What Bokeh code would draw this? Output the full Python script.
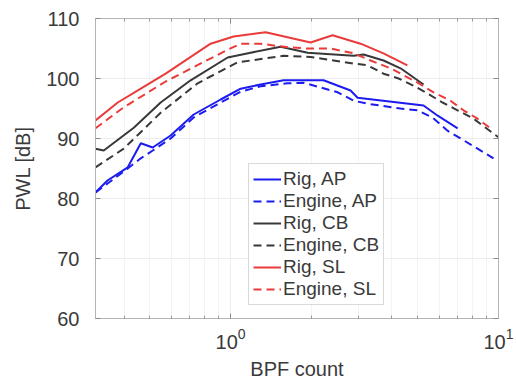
from bokeh.plotting import figure
from bokeh.models import FixedTicker, LinearAxis, LogAxis
from bokeh.embed import file_html
from bokeh.resources import INLINE

# PWL spectra versus BPF count for rig and engine, three operating points
rig_ap_x = [0.313, 0.347, 0.413, 0.462, 0.512, 0.597, 0.728, 0.918, 1.09, 1.294, 1.577, 2.222, 2.804, 2.978, 5.25, 5.93, 7.04]
rig_ap_y = [81.0, 83.0, 85.2, 89.2, 88.5, 90.5, 94.0, 96.5, 98.3, 99.0, 99.7, 99.7, 98.0, 96.8, 95.5, 93.8, 91.7]

eng_ap_x = [0.313, 0.413, 0.462, 0.512, 0.597, 0.728, 0.918, 1.09, 1.294, 1.632, 1.873, 2.167, 2.51, 2.877, 3.245, 4.31, 4.987, 5.672, 6.452, 7.22, 8.208, 9.58]
eng_ap_y = [81.0, 85.0, 86.7, 88.0, 90.0, 93.5, 96.0, 97.8, 98.7, 99.2, 99.3, 98.5, 97.7, 96.3, 95.8, 95.0, 94.7, 93.5, 91.3, 90.0, 88.5, 86.7]

rig_cb_x = [0.313, 0.336, 0.435, 0.548, 0.709, 0.975, 1.187, 1.537, 1.938, 2.877, 3.135, 3.723, 4.308, 5.25]
rig_cb_y = [88.3, 88.0, 91.8, 96.0, 99.7, 103.5, 104.3, 105.3, 104.3, 103.8, 104.0, 103.0, 101.7, 99.0]

eng_cb_x = [0.313, 0.399, 0.548, 0.753, 1.062, 1.187, 1.577, 1.989, 2.877, 3.245, 3.723, 4.236, 4.818, 5.434, 6.18, 7.03, 8.07, 10.0]
eng_cb_y = [85.2, 88.3, 94.3, 99.2, 102.7, 103.0, 103.8, 103.6, 102.5, 102.2, 100.8, 100.0, 98.8, 97.5, 96.0, 94.7, 93.3, 90.2]

rig_sl_x = [0.313, 0.379, 0.462, 0.572, 0.842, 1.026, 1.351, 1.989, 2.402, 3.055, 3.72, 4.57]
rig_sl_y = [93.0, 96.0, 98.3, 100.8, 105.8, 107.0, 107.7, 106.0, 107.2, 105.8, 104.2, 102.2]

eng_sl_x = [0.313, 0.399, 0.572, 0.975, 1.09, 1.294, 1.632, 1.939, 2.361, 2.877, 3.33, 3.954, 4.987, 5.72, 6.62, 7.40, 8.35, 9.34]
eng_sl_y = [91.7, 95.2, 99.5, 104.8, 105.8, 105.8, 105.2, 105.0, 105.0, 104.2, 103.0, 101.7, 99.3, 97.7, 96.3, 94.7, 93.3, 91.7]

y_ticks = [60, 70, 80, 90, 100, 110]
x_major = [1, 10]
x_minor = [0.4, 0.5, 0.6, 0.7, 0.8, 0.9, 2, 3, 4, 5, 6, 7, 8, 9]

FONT = "Liberation Sans"
TXT = "#3a3a3a"
BLUE = "#1c1cf0"
BLACK = "#383838"
RED = "#ea3a3a"

p = figure(
    width=516, height=387,
    x_axis_type="log", x_range=(0.313, 10), y_range=(60, 110),
    output_backend="svg", toolbar_location=None,
    min_border_left=95, min_border_right=18, min_border_top=18, min_border_bottom=69,
    background_fill_color="white", border_fill_color="white",
)
p.outline_line_color = "#b4b4b4"

series = [
    (rig_ap_x, rig_ap_y, BLUE, "solid", "Rig, AP"),
    (eng_ap_x, eng_ap_y, BLUE, "8 5", "Engine, AP"),
    (rig_cb_x, rig_cb_y, BLACK, "solid", "Rig, CB"),
    (eng_cb_x, eng_cb_y, BLACK, "8 5", "Engine, CB"),
    (rig_sl_x, rig_sl_y, RED, "solid", "Rig, SL"),
    (eng_sl_x, eng_sl_y, RED, "8 5", "Engine, SL"),
]
for xs, ys, col, dash, lab in series:
    p.line(xs, ys, line_color=col, line_width=2, line_dash=dash, legend_label=lab)

x_ticker = FixedTicker(ticks=x_major, minor_ticks=x_minor)
y_ticker = FixedTicker(ticks=y_ticks)

def style_axis(ax, labels=True):
    ax.axis_line_color = "#b4b4b4"
    ax.major_tick_line_color = "#8a8a8a"
    ax.minor_tick_line_color = "#9a9a9a"
    ax.major_tick_in = 5
    ax.major_tick_out = 0
    ax.minor_tick_in = 3
    ax.minor_tick_out = 0
    if labels:
        ax.major_label_text_font = FONT
        ax.major_label_text_font_size = "20px"
        ax.major_label_text_color = TXT
        ax.axis_label_text_font = FONT
        ax.axis_label_text_font_size = "20px"
        ax.axis_label_text_font_style = "normal"
        ax.axis_label_text_color = TXT
    else:
        ax.major_label_text_font_size = "2px"
        ax.major_label_text_alpha = 0
        ax.major_label_standoff = 0

xa = p.xaxis[0]
xa.ticker = x_ticker
style_axis(xa)
xa.axis_label = "BPF count"
xa.major_label_standoff = 9
xa.axis_label_standoff = 6

ya = p.yaxis[0]
ya.ticker = y_ticker
style_axis(ya)
ya.axis_label = "PWL [dB]"
ya.minor_tick_line_color = None
ya.major_label_standoff = 16
ya.axis_label_standoff = 9

top = LogAxis(ticker=x_ticker)
style_axis(top, labels=False)
p.add_layout(top, "above")

right = LinearAxis(ticker=y_ticker)
style_axis(right, labels=False)
right.minor_tick_line_color = None
p.add_layout(right, "right")

p.xgrid.ticker = x_ticker
p.ygrid.ticker = y_ticker
p.xgrid.grid_line_color = "#ececec"
p.ygrid.grid_line_color = "#ececec"
p.xgrid.minor_grid_line_color = "#f3f3f3"

lg = p.legend[0]
lg.location = (153, 13)
lg.label_text_font = FONT
lg.label_text_font_size = "19px"
lg.label_text_color = TXT
lg.label_height = 22
lg.glyph_height = 22
lg.glyph_width = 28
lg.label_standoff = 2
lg.spacing = 0
lg.padding = 4
lg.margin = 0
lg.border_line_color = "#b4b4b4"
lg.background_fill_color = "white"
lg.background_fill_alpha = 1.0

open("out.html", "w").write(file_html(p, INLINE))
